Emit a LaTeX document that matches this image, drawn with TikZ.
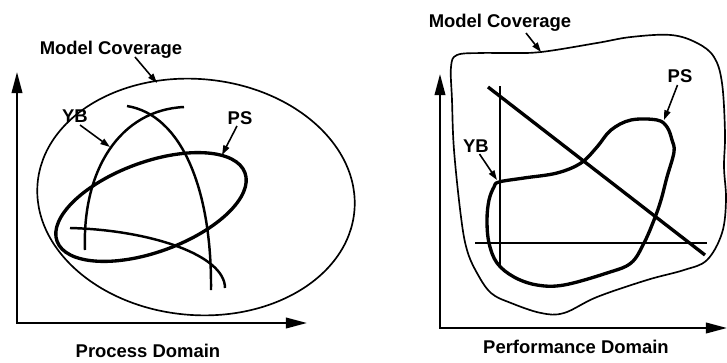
\documentclass[tikz,border=0pt]{standalone}
\usepackage{fontspec}
\setmainfont{Liberation Sans}
\usetikzlibrary{arrows.meta, positioning}

\begin{document}
\begin{tikzpicture}[x=0.02cm, y=-0.02cm,
  lbl/.style={font=\fontsize{10.5}{12}\selectfont\bfseries, anchor=base, inner sep=1pt},
  axis/.style={line width=1.2pt, {Triangle[length=12pt,width=6pt]}-{Triangle[length=12pt,width=6pt]}},
  ptr/.style={line width=0.9pt, -{Triangle[length=5.5pt,width=3.6pt]}},
  outline/.style={line width=0.95pt},
  curve/.style={line width=1.4pt},
  heavy/.style={line width=1.9pt}]
\useasboundingbox (0,0) rectangle (727,362);

% left: process domain
\coordinate (lY) at (17,72); \coordinate (lO) at (17,323); \coordinate (lX) at (307,323);
\draw[axis] (lY) -- (lO) -- (lX);
\node[lbl] (procL) at (148,357) {Process Domain};
\node[lbl] (mcL) at (111,54) {Model Coverage};
\node[lbl] (ybL) at (75,122) {YB};
\node[lbl] (psL) at (240,124) {PS};
\draw[outline, rotate around={-5:(196,197)}] (196,197) ellipse [x radius=159, y radius=118];
\draw[heavy, rotate around={20:(151,207)}] (151,207) ellipse [x radius=100, y radius=45];
\draw[curve] (85,250) .. controls (82,170) and (120,110) .. (184,107);
\draw[curve] (127,106) .. controls (182,115) and (212,190) .. (211,290);
\draw[curve] (70,228) .. controls (150,230) and (225,255) .. (225,288);
\coordinate (mcLtip) at (157,83); \coordinate (ybLtip) at (110,147); \coordinate (psLtip) at (222,155);
\draw[ptr] ([xshift=0.48cm, yshift=-0.06cm]mcL.base) -- (mcLtip);
\draw[ptr] ([xshift=0.1cm, yshift=-0.06cm]ybL.base) -- (ybLtip);
\draw[ptr] ([xshift=-0.06cm, yshift=-0.04cm]psL.base) -- (psLtip);

% right: performance domain
\coordinate (rY) at (440,74); \coordinate (rO) at (440,328); \coordinate (rX) at (727,328);
\draw[axis] (rY) -- (rO) -- (rX);
\node[lbl] (perfR) at (576,353) {Performance Domain};
\node[lbl] (mcR) at (500,27) {Model Coverage};
\node[lbl] (ybR) at (476,152) {YB};
\node[lbl] (psR) at (680,82) {PS};
\draw[outline] plot[smooth cycle, tension=0.6] coordinates {
  (541,52) (597,43) (631,37) (671,35) (697,43) (714,57) (722,83) (725,133)
  (724,167) (726,200) (722,233) (707,260) (684,270) (647,280) (597,297)
  (564,313) (541,313) (511,303) (491,293) (477,273) (467,250) (461,217)
  (454,150) (452,100) (451,67) (457,55) (481,53) (507,53)};
\draw[heavy] plot[smooth cycle, tension=0.6] coordinates {
  (499,182) (524,178) (557,173) (581,163) (597,147) (611,130) (631,120)
  (657,120) (667,127) (672,140) (674,152) (667,177) (661,200) (654,220)
  (644,243) (631,263) (607,273) (564,285) (537,285) (514,277) (497,263)
  (489,243) (487,220) (489,200) (494,187)};
\draw[curve] (500,86) -- (500,267);
\draw[curve] (475,243) -- (707,243);
\draw[heavy] (488,87) -- (705,255);
\coordinate (mcRtip) at (541,52); \coordinate (ybRtip) at (497,180); \coordinate (psRtip) at (664,120);
\draw[ptr] ([xshift=0.52cm, yshift=-0.12cm]mcR.base) -- (mcRtip);
\draw[ptr] ([xshift=0.07cm, yshift=-0.04cm]ybR.base) -- (ybRtip);
\draw[ptr] ([xshift=-0.05cm, yshift=-0.06cm]psR.base) -- (psRtip);
\end{tikzpicture}
\end{document}
